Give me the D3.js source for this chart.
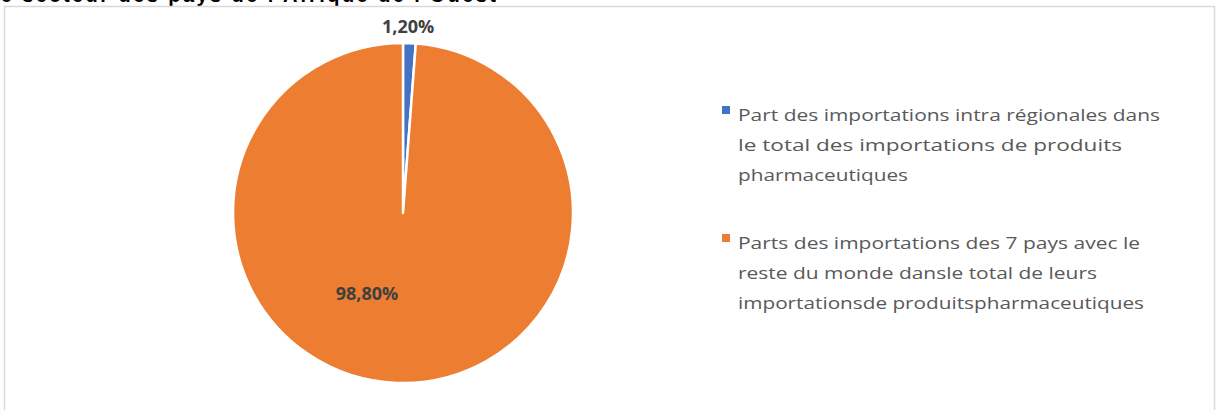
<!DOCTYPE html>
<html>
<head>
<meta charset="utf-8">
<script src="https://cdn.jsdelivr.net/npm/d3@7"></script>
<style>
  body { margin: 0; background: #fff; }
</style>
</head>
<body>
<div class="canvas"></div>
<script>
// data
const categories = [
    "Part des importations intra régionales dans le total des importations de produits pharmaceutiques",
    "Parts des importations des 7 pays avec le reste du monde dans le total de leurs importations de produits pharmaceutiques"
];
const values = [1.2, 98.8];
const valueLabels = ["1,20%", "98,80%"];
const legendLines = [
    ["Part des importations intra régionales dans", "le total des importations de produits", "pharmaceutiques"],
    ["Parts des importations des 7 pays avec le", "reste du monde dansle total de leurs", "importationsde produitspharmaceutiques"]
];
const colors = ["#4472C4", "#ED7D31"];
const titleText = "be secteur des pays de l'Afrique de l'Ouest";

const width = 1219, height = 410;

const svg = d3.select('.canvas').append('svg')
    .attr('width', width)
    .attr('height', height);

// clipped title from above the chart box
svg.append('text')
    .text(titleText)
    .attr('x', -14)
    .attr('y', 2)
    .attr('font-family', 'Liberation Sans, Arial, sans-serif')
    .attr('font-weight', 'bold')
    .attr('font-size', 20)
    .attr('textLength', 510)
    .attr('lengthAdjust', 'spacing')
    .attr('fill', '#000');

// chart area
svg.append('rect')
    .attr('x', 4.5)
    .attr('y', 6.5)
    .attr('width', 1210)
    .attr('height', 420)
    .attr('fill', '#fff')
    .attr('stroke', '#d9d9d9')
    .attr('stroke-width', 1.5);

const cx = 403, cy = 213, r = 170;

const pie = d3.pie().sort(null).value(d => d);
const arcs = pie(values);
const arc = d3.arc().innerRadius(0).outerRadius(r);

const g = svg.append('g').attr('transform', `translate(${cx},${cy})`);

g.selectAll('path')
    .data(arcs)
    .join('path')
    .attr('d', arc)
    .attr('fill', (d, i) => colors[i])
    .attr('stroke', '#fff')
    .attr('stroke-width', 2.5)
    .attr('stroke-linejoin', 'round');

// labels: small slice outside end, big slice inside (best fit)
const outerLabel = d3.arc().innerRadius(r + 20).outerRadius(r + 20);
const labelPos = (d, i) => {
    if (i === 0) {
        const c = outerLabel.centroid(d);
        return [c[0] - 2, c[1] + 4];
    }
    return d3.pointRadial(Math.PI + 0.42, r * 0.52);
};

g.selectAll('text.lbl')
    .data(arcs)
    .join('text')
    .attr('class', 'lbl')
    .attr('x', (d, i) => labelPos(d, i)[0])
    .attr('y', (d, i) => labelPos(d, i)[1] + 6)
    .attr('text-anchor', 'middle')
    .attr('font-family', 'Open Sans, Liberation Sans, sans-serif')
    .attr('font-weight', 'bold')
    .attr('font-size', 18)
    .attr('fill', '#404040')
    .text((d, i) => valueLabels[i]);

// legend
const legendTop = [110, 238];
const lineH = 30;
const lineWidths = [[422, 384, 170], [402, 359, 406]];

const leg = svg.selectAll('g.leg')
    .data(categories)
    .join('g')
    .attr('class', 'leg')
    .attr('transform', (d, i) => `translate(722,${legendTop[i]})`);

leg.append('rect')
    .attr('x', 0)
    .attr('y', -4)
    .attr('width', 8)
    .attr('height', 8)
    .attr('fill', (d, i) => colors[i]);

leg.each(function(d, i) {
    d3.select(this).selectAll('text')
        .data(legendLines[i])
        .join('text')
        .attr('x', 16)
        .attr('y', (t, j) => 11 + j * lineH)
        .attr('font-family', 'Open Sans, Liberation Sans, sans-serif')
        .attr('font-size', 17)
        .attr('fill', '#595959')
        .attr('textLength', (t, j) => lineWidths[i][j])
        .attr('lengthAdjust', 'spacingAndGlyphs')
        .text(t => t);
});
</script>
</body>
</html>
